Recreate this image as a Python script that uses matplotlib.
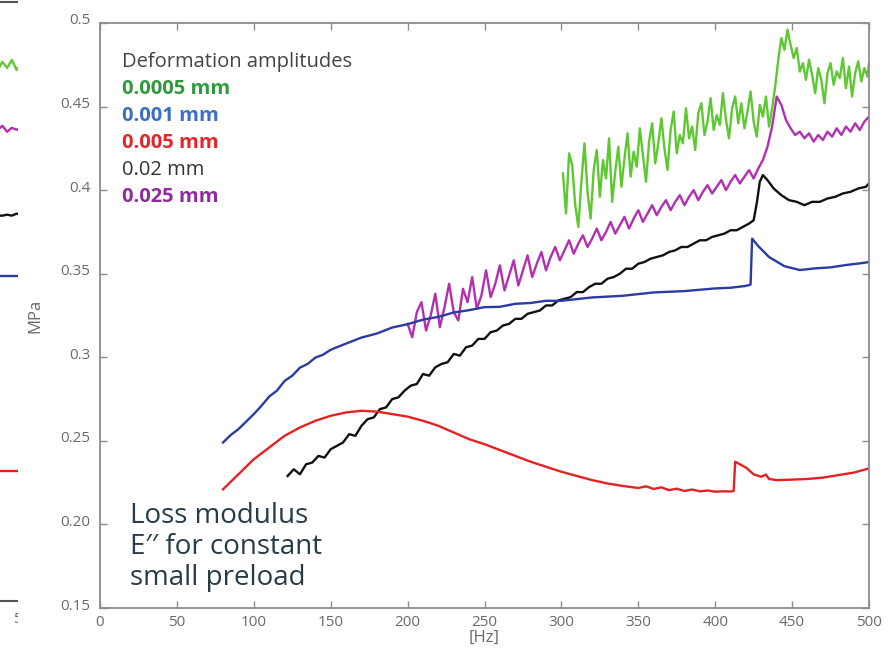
import numpy as np
import matplotlib
matplotlib.use("Agg")
from matplotlib import pyplot as plt
from matplotlib.patches import Rectangle
import matplotlib.transforms as mtransforms

plt.rcParams['font.family'] = ['Open Sans', 'DejaVu Sans']

# ---- loss modulus data, E'' [MPa] vs frequency [Hz] ----
f_red = [80, 90, 100, 110, 120, 130, 140, 150, 160, 170, 180, 190, 200, 210,
         220, 230, 240, 250, 260, 270, 280, 290, 300, 310, 320, 330, 340, 350,
         355, 360, 365, 370, 375, 380, 385, 390, 395, 400, 405, 410, 412, 413,
         420, 425, 430, 433, 435, 440, 450, 460, 470, 480, 490, 500]
e_red = [0.221, 0.230, 0.239, 0.246, 0.253, 0.258, 0.262, 0.265, 0.267, 0.268,
         0.2675, 0.266, 0.2645, 0.262, 0.259, 0.255, 0.251, 0.248, 0.2445,
         0.241, 0.2375, 0.2345, 0.2315, 0.229, 0.2265, 0.2245, 0.2230, 0.2218,
         0.2228, 0.2212, 0.2222, 0.2205, 0.2214, 0.2200, 0.2209, 0.2198,
         0.2203, 0.2196, 0.2198, 0.2197, 0.2200, 0.2375, 0.234, 0.230, 0.2285,
         0.2298, 0.2272, 0.2265, 0.2268, 0.2272, 0.2280, 0.2295, 0.2310, 0.2335]

f_blue = [80, 85, 90, 95, 100, 105, 110, 115, 120, 125, 130, 135, 140, 145,
          150, 160, 170, 180, 190, 200, 210, 220, 230, 240, 250, 260, 270, 280,
          290, 300, 320, 340, 360, 380, 400, 410, 420, 423, 424, 428, 435, 445,
          455, 465, 475, 485, 495, 500]
e_blue = [0.249, 0.2535, 0.2570, 0.2615, 0.2660, 0.2710, 0.2765, 0.2800,
          0.2858, 0.2890, 0.2938, 0.2960, 0.2998, 0.3015, 0.3045, 0.3082,
          0.3118, 0.3142, 0.3178, 0.3198, 0.3225, 0.3242, 0.3268, 0.3282,
          0.3300, 0.3302, 0.3320, 0.3325, 0.3338, 0.3338, 0.3358, 0.3368,
          0.3388, 0.3396, 0.3412, 0.3416, 0.3427, 0.3435, 0.3710, 0.3665,
          0.3600, 0.3545, 0.3522, 0.3532, 0.3538, 0.3552, 0.3563, 0.3570]

f_black = list(range(122, 423, 4)) + [425, 427, 429, 431, 434, 438, 443, 448,
                                      453, 458, 463, 468, 473, 478, 483, 488,
                                      493, 498, 500]
e_black = [0.229, 0.233, 0.230, 0.236, 0.237, 0.241, 0.240, 0.245, 0.247, 0.249,
           0.254, 0.253, 0.259, 0.263, 0.264, 0.269, 0.270, 0.275, 0.276, 0.280,
           0.283, 0.284, 0.290, 0.289, 0.294, 0.296, 0.297, 0.302, 0.301, 0.306,
           0.307, 0.311, 0.311, 0.315, 0.316, 0.319, 0.320, 0.323, 0.323, 0.326,
           0.327, 0.328, 0.331, 0.331, 0.334, 0.335, 0.336, 0.339, 0.339, 0.342,
           0.344, 0.344, 0.347, 0.348, 0.350, 0.353, 0.353, 0.356, 0.357, 0.359,
           0.360, 0.361, 0.363, 0.364, 0.366, 0.366, 0.368, 0.370, 0.370, 0.372,
           0.373, 0.374, 0.376, 0.376, 0.378, 0.380,
           0.382, 0.392, 0.405, 0.409, 0.406, 0.401, 0.397, 0.394, 0.393, 0.391,
           0.393, 0.393, 0.395, 0.396, 0.398, 0.399, 0.401, 0.402, 0.404]

f_purple = list(range(200, 501, 3))
e_purple = [0.320, 0.312, 0.327, 0.333, 0.316, 0.325, 0.338, 0.318, 0.330, 0.344,
            0.327, 0.322, 0.341, 0.333, 0.348, 0.329, 0.337, 0.352, 0.336, 0.344,
            0.355, 0.340, 0.349, 0.358, 0.343, 0.352, 0.361, 0.348, 0.356, 0.363,
            0.352, 0.360, 0.366, 0.358, 0.364, 0.370, 0.362, 0.368, 0.373, 0.366,
            0.371, 0.377, 0.370, 0.375, 0.381, 0.374, 0.379, 0.384, 0.377, 0.383,
            0.388, 0.381, 0.386, 0.391, 0.385, 0.390, 0.394, 0.388, 0.393, 0.397,
            0.391, 0.396, 0.400, 0.394, 0.399, 0.403, 0.398, 0.402, 0.406, 0.400,
            0.405, 0.409, 0.404, 0.408, 0.412, 0.407, 0.413, 0.418, 0.426, 0.438,
            0.456, 0.451, 0.442, 0.437, 0.433, 0.435, 0.431, 0.434, 0.429, 0.433,
            0.430, 0.435, 0.432, 0.437, 0.433, 0.438, 0.435, 0.440, 0.436, 0.441,
            0.444]

f_green = list(range(301, 500, 2)) + [500]
e_green = [0.410, 0.386, 0.422, 0.415, 0.391, 0.378, 0.405, 0.428, 0.399, 0.383,
           0.412, 0.424, 0.396, 0.418, 0.407, 0.431, 0.393, 0.411, 0.426, 0.402,
           0.419, 0.434, 0.408, 0.423, 0.414, 0.437, 0.421, 0.405, 0.429, 0.440,
           0.416, 0.428, 0.443, 0.425, 0.412, 0.436, 0.447, 0.422, 0.433, 0.428,
           0.449, 0.431, 0.438, 0.424, 0.446, 0.452, 0.433, 0.441, 0.455, 0.436,
           0.445, 0.439, 0.458, 0.442, 0.431, 0.449, 0.456, 0.440, 0.452, 0.437,
           0.447, 0.459, 0.441, 0.432, 0.451, 0.444, 0.456, 0.438, 0.449, 0.462,
           0.478, 0.491, 0.484, 0.496, 0.487, 0.479, 0.485, 0.471, 0.476, 0.466,
           0.478, 0.469, 0.458, 0.473, 0.466, 0.452, 0.470, 0.476, 0.463, 0.471,
           0.467, 0.479, 0.461, 0.474, 0.456, 0.470, 0.477, 0.465, 0.473, 0.468,
           0.476]

# right-hand ends of the neighbouring panel's curves
f_stub = [460, 465, 470, 475, 480, 485, 490, 495, 500]
e_stub_green = [3.15, 3.19, 3.16, 3.20, 3.17, 3.21, 3.16, 3.19, 3.18]
e_stub_purple = [2.85, 2.87, 2.86, 2.88, 2.85, 2.87, 2.86, 2.87, 2.86]
e_stub_black = [2.42, 2.425, 2.43, 2.43, 2.435, 2.43, 2.44, 2.435, 2.44]
e_stub_blue = [2.13, 2.13, 2.13, 2.13, 2.13, 2.13, 2.13, 2.13, 2.13]
e_stub_red = [1.15, 1.15, 1.15, 1.15, 1.15, 1.15, 1.15, 1.15, 1.15]

yticks = [0.15, 0.20, 0.25, 0.3, 0.35, 0.4, 0.45, 0.5]
yticklabels = ['0.15', '0.20', '0.25', '0.3', '0.35', '0.4', '0.45', '0.5']
xticks = [0, 50, 100, 150, 200, 250, 300, 350, 400, 450, 500]

legend_items = [('0.0005 mm', '#2e9a3c', 'bold'),
                ('0.001 mm', '#3b6fc4', 'bold'),
                ('0.005 mm', '#e3262b', 'bold'),
                ('0.02 mm', '#333333', 'normal'),
                ('0.025 mm', '#8e2c9c', 'bold')]

c_green = '#5ec832'
c_purple = '#b22fb0'
c_black = '#111111'
c_blue = '#2b3ba0'
c_red = '#e42222'
axis_gray = '#8c8c8c'
text_gray = '#6a6a6a'
lw = 1.7

fig = plt.figure(figsize=(8.92, 6.56), dpi=100)
W, H = 892.0, 656.0

#### neighbouring panel, mostly covered ####
ax0 = fig.add_axes([-0.5, 1 - 601 / H, 0.5 + 26 / W, 599 / H])
ax0.set_zorder(0)
ax0.plot(f_stub, e_stub_green, color=c_green, lw=lw)
ax0.plot(f_stub, e_stub_purple, color=c_purple, lw=lw)
ax0.plot(f_stub, e_stub_black, color=c_black, lw=lw)
ax0.plot(f_stub, e_stub_blue, color=c_blue, lw=lw)
ax0.plot(f_stub, e_stub_red, color=c_red, lw=lw)
ax0.set_xlim(0, 500)
ax0.set_ylim(0.5, 3.5)
ax0.set_yticks([])
ax0.set_xticks([500])
ax0.set_xticklabels(['500'], color=text_gray, fontsize=11)
ax0.tick_params(axis='x', direction='in', length=0, pad=8)
for s in ax0.spines.values():
    s.set_color('#555555')
    s.set_linewidth(1.5)

# white sheet behind the main panel
fig.patches.append(Rectangle((18 / W, 0), 1, 1, transform=fig.transFigure,
                             facecolor='white', edgecolor='none', zorder=0.5))

#### main panel ####
ax = fig.add_axes([100 / W, 1 - 608 / H, 769 / W, 585 / H])
ax.set_zorder(1)
ax.plot(f_green, e_green, color=c_green, lw=lw)
ax.plot(f_purple, e_purple, color=c_purple, lw=lw)
ax.plot(f_black, e_black, color=c_black, lw=lw)
ax.plot(f_blue, e_blue, color=c_blue, lw=lw)
ax.plot(f_red, e_red, color=c_red, lw=lw)

ax.set_xlim(0, 500)
ax.set_ylim(0.15, 0.5)
ax.set_xticks(xticks)
ax.set_xticklabels([str(t) for t in xticks])
ax.set_yticks(yticks)
ax.set_yticklabels(yticklabels)
ax.tick_params(direction='in', length=5, width=1, color=axis_gray,
               labelcolor=text_gray, labelsize=11, top=True, right=True)
ax.tick_params(axis='y', pad=7)
ax.tick_params(axis='x', pad=5)
shift = mtransforms.ScaledTranslation(0, 4 / 100, fig.dpi_scale_trans)
for lab in ax.get_yticklabels():
    lab.set_transform(lab.get_transform() + shift)
for s in ax.spines.values():
    s.set_color(axis_gray)
    s.set_linewidth(1.3)

ax.set_xlabel('[Hz]', color=text_gray, fontsize=12, labelpad=0)
ax.set_ylabel('MPa', color=text_gray, fontsize=12, labelpad=12)

# legend drawn as coloured text lines
tr = ax.transAxes
lx = (122 - 100) / 769.0
y0 = 1 - (62 - 23) / 585.0
ax.text(lx, y0, 'Deformation amplitudes', transform=tr, fontsize=14.5,
        color='#444444', va='center')
for i, (lab, col, wt) in enumerate(legend_items):
    ax.text(lx, y0 - (i + 1) * 27 / 585.0, lab, transform=tr, fontsize=14.5,
            color=col, fontweight=wt, va='center')

ax.text((130 - 100) / 769.0, (608 - 547) / 585.0,
        "Loss modulus\nE\u2032\u2032 for constant\nsmall preload",
        transform=tr, fontsize=20, color='#263c47', va='center',
        linespacing=1.15)

fig.savefig('out.png', dpi=100, facecolor='white')
